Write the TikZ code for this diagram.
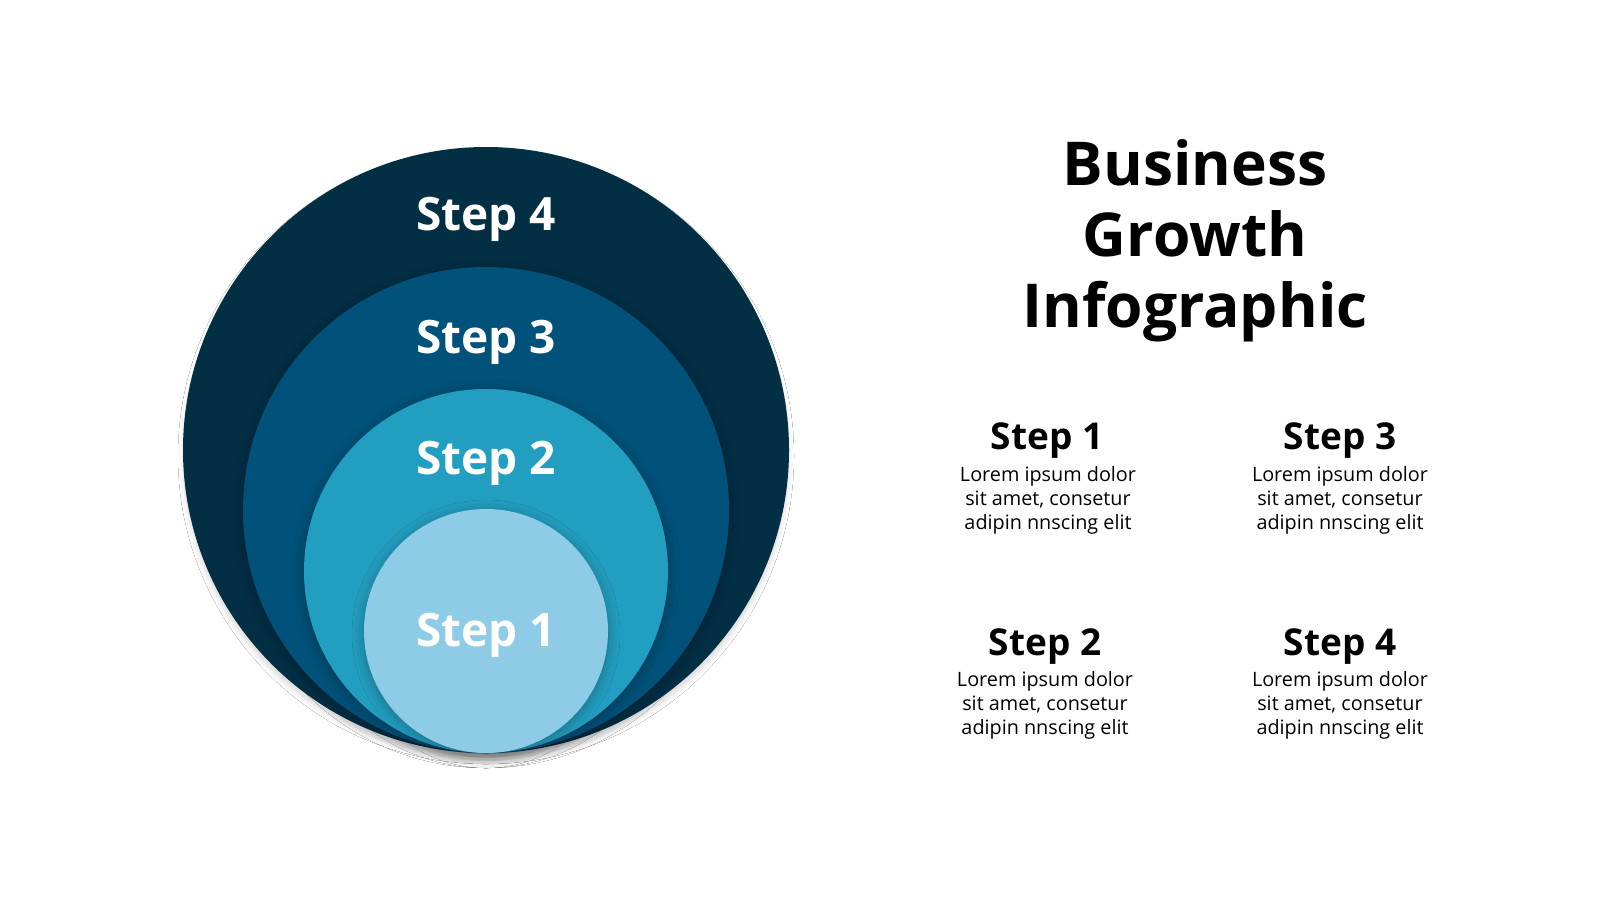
\documentclass[tikz,border=0pt]{standalone}
\usepackage{fontspec}
\setmainfont{Open Sans}
\usetikzlibrary{shadows.blur}
\definecolor{cfour}{HTML}{032F45}
\definecolor{cthree}{HTML}{00527A}
\definecolor{ctwo}{HTML}{229EC0}
\definecolor{cone}{HTML}{8ECBE6}
\tikzset{
  ring/.style={circle, inner sep=0pt, draw=none, blur shadow={shadow xshift=0pt, shadow yshift=-3pt, shadow blur radius=12pt, shadow opacity=30}},
  outerring/.style={circle, inner sep=0pt, draw=none, blur shadow={shadow xshift=0pt, shadow yshift=-6pt, shadow blur radius=5pt, shadow opacity=14}},
  cirlabel/.style={anchor=base, text=white, font=\fontsize{46}{52}\selectfont\bfseries, inner sep=0pt},
  head/.style={anchor=base, text=black, font=\fontsize{37}{42}\selectfont\bfseries, inner sep=0pt},
  body/.style={anchor=base, text=black, align=center, font=\fontsize{19.8}{24}\selectfont, inner sep=0pt},
  titletext/.style={anchor=base, text=black, align=center, font=\fontsize{60.5}{71}\selectfont\bfseries, inner sep=0pt}
}
\begin{document}
\begin{tikzpicture}[x=1pt,y=-1pt]
\path[use as bounding box, fill=white] (0,0) rectangle (1600,900);
% concentric tangent circles
\node[outerring, fill=cfour, minimum size=606pt] (c4) at (486,450) {};
\node[ring, fill=cthree, minimum size=486pt] (c3) at (486,510) {};
\node[ring, fill=ctwo, minimum size=364pt] (c2) at (486,571) {};
\node[ring, fill=cone, minimum size=244pt] (c1) at (486,631) {};
\node[cirlabel] (l4) at (486,230.5) {Step 4};
\node[cirlabel] (l3) at (486,353) {Step 3};
\node[cirlabel] (l2) at (486,474.5) {Step 2};
\node[cirlabel] (l1) at (486,646.5) {Step 1};
% title (base = baseline of last line)
\node[titletext] (title) at (1195,327) {Business\\Growth\\Infographic};
% step descriptions
\node[head] (h1) at (1047,449) {Step 1};
\node[body] (b1) at (1048,529.5) {Lorem ipsum dolor\\sit amet, consetur\\adipin nnscing elit};
\node[head] (h3) at (1340,449) {Step 3};
\node[body] (b3) at (1340,529) {Lorem ipsum dolor\\sit amet, consetur\\adipin nnscing elit};
\node[head] (h2) at (1045,655) {Step 2};
\node[body] (b2) at (1045,734.5) {Lorem ipsum dolor\\sit amet, consetur\\adipin nnscing elit};
\node[head] (h4) at (1340,655) {Step 4};
\node[body] (b4) at (1340,734.5) {Lorem ipsum dolor\\sit amet, consetur\\adipin nnscing elit};
\end{tikzpicture}
\end{document}
